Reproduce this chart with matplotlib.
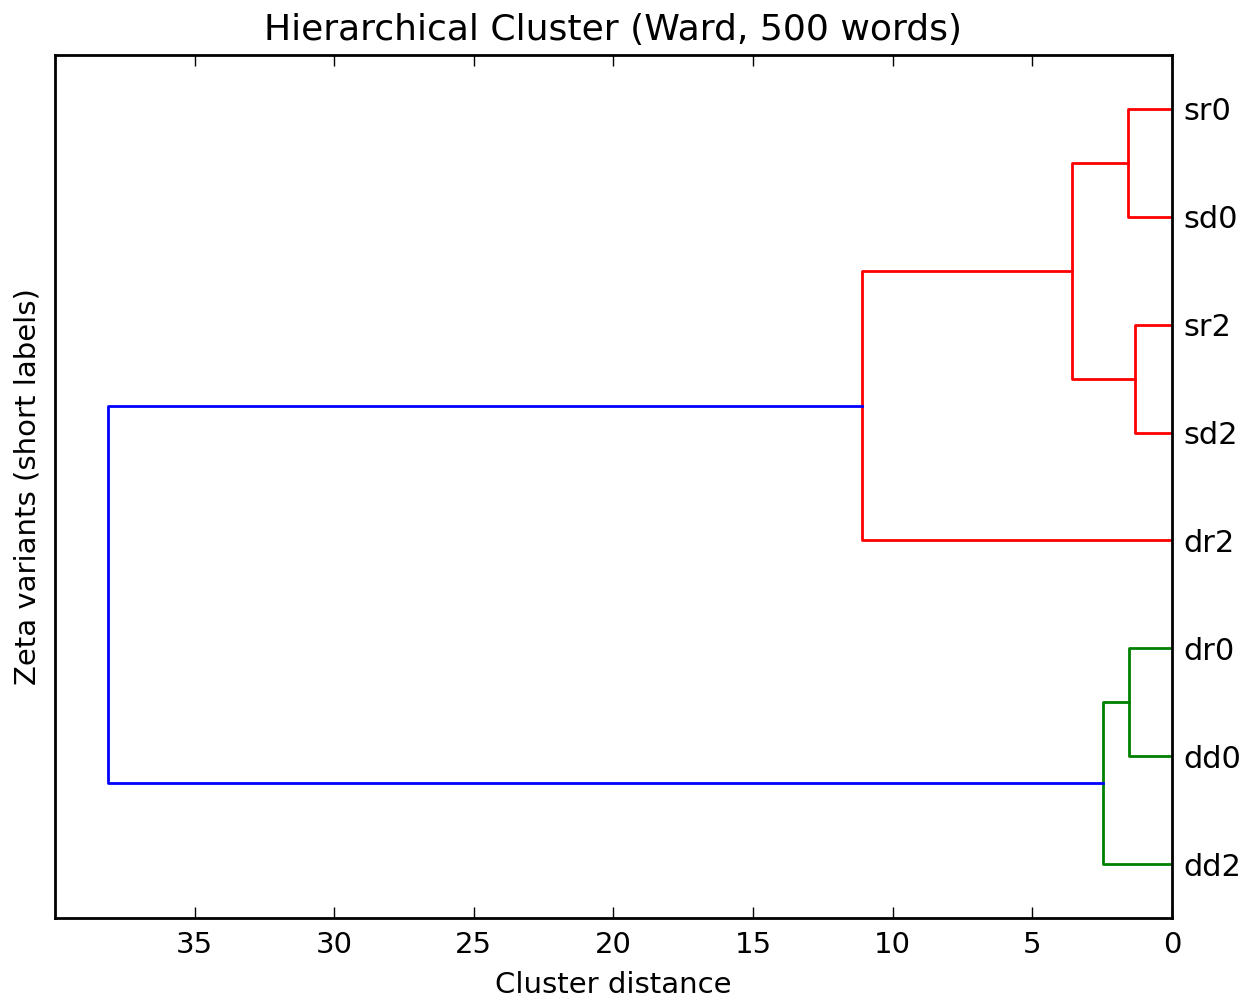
import matplotlib
matplotlib.use("Agg")
from matplotlib import pyplot as plt

# leaves from bottom to top
leaves = ['dd2', 'dd0', 'dr0', 'dr2', 'sd2', 'sr2', 'sd0', 'sr0']

# merges: (left node, right node, distance, colour)
merge_a = ['sr0', 'sr2', 'dr0', 'm0', 'm3', 'm2', 'm4']
merge_b = ['sd0', 'sd2', 'dd0', 'm1', 'dr2', 'dd2', 'm5']
merge_dist = [1.57, 1.32, 1.54, 3.57, 11.1, 2.46, 38.1]
merge_col = ['r', 'r', 'g', 'r', 'r', 'g', 'b']

plt.rcParams['font.family'] = 'DejaVu Sans'
plt.rcParams['font.size'] = 21

fig = plt.figure(figsize=(12.42, 9.97), dpi=100)
ax = fig.add_axes([0.0443, 0.0792, 0.8993, 0.8656])

pos = {name: 5 + 10 * i for i, name in enumerate(leaves)}
height = {name: 0.0 for name in leaves}

for i, (a, b, d, c) in enumerate(zip(merge_a, merge_b, merge_dist, merge_col)):
    ya, yb = pos[a], pos[b]
    ax.plot([height[a], d, d, height[b]], [ya, ya, yb, yb], color=c, lw=2)
    pos[f"m{i}"] = (ya + yb) / 2
    height[f"m{i}"] = d

ax.set_xlim(40, 0)
ax.set_ylim(0, 10 * len(leaves))
ax.set_xticks([35, 30, 25, 20, 15, 10, 5, 0])
ax.yaxis.tick_right()
ax.set_yticks([pos[n] for n in leaves])
ax.set_yticklabels(leaves, fontsize=22)
ax.tick_params(axis='y', length=0, pad=8)
ax.tick_params(axis='x', direction='in', length=8, width=1, top=True, pad=9)
for s in ax.spines.values():
    s.set_linewidth(2)

ax.set_title('Hierarchical Cluster (Ward, 500 words)', fontsize=26, pad=11)
ax.set_xlabel('Cluster distance', labelpad=9)
ax.set_ylabel('Zeta variants (short labels)', labelpad=10)

fig.savefig('out.png', dpi=100)
